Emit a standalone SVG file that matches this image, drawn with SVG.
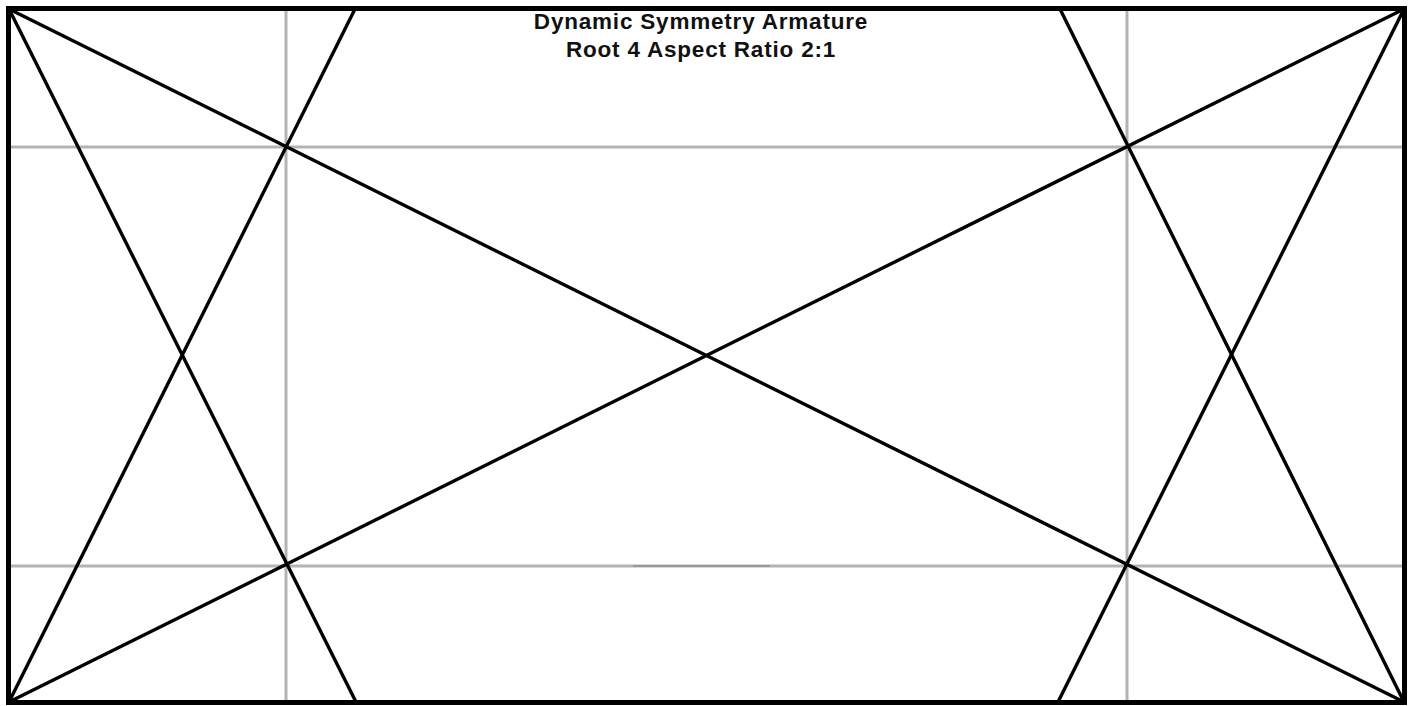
<svg xmlns="http://www.w3.org/2000/svg" width="1413" height="706" viewBox="0 0 1413 706">
<style>
.g{stroke:#b3b3b3;stroke-width:3;fill:none}
.k{stroke:#000;stroke-width:3.4;fill:none;stroke-linecap:round}
.t{font-family:"Liberation Sans",Arial,sans-serif;font-weight:bold;font-size:22.5px;letter-spacing:0.8px;fill:#111;text-anchor:middle}
</style>
<rect width="1413" height="706" fill="#fff"/>
<g id="grid">
<line class="g" x1="286" y1="9" x2="286" y2="702"/>
<line class="g" x1="1127" y1="9" x2="1127" y2="702"/>
<line class="g" x1="9" y1="147" x2="1404" y2="147"/>
<line class="g" x1="9" y1="566" x2="1404" y2="566"/>
<line x1="633" y1="566" x2="770" y2="566" stroke="#999" stroke-width="2"/>
</g>
<g id="connectors">
<line class="k" x1="9" y1="9" x2="1404" y2="702"/>
<line class="k" x1="9" y1="702" x2="1404" y2="9"/>
<line class="k" x1="9" y1="9" x2="356" y2="702"/>
<line class="k" x1="355" y1="9" x2="9" y2="702"/>
<line class="k" x1="1060" y1="9" x2="1404" y2="702"/>
<line class="k" x1="1404" y1="9" x2="1058" y2="702"/>
</g>
<g id="frame">
<rect x="8.5" y="8.5" width="1396" height="694" fill="none" stroke="#000" stroke-width="5"/>
</g>
<g id="title">
<text class="t" x="701" y="29">Dynamic Symmetry Armature</text>
<text class="t" x="701" y="57">Root 4 Aspect Ratio 2:1</text>
</g>
</svg>
